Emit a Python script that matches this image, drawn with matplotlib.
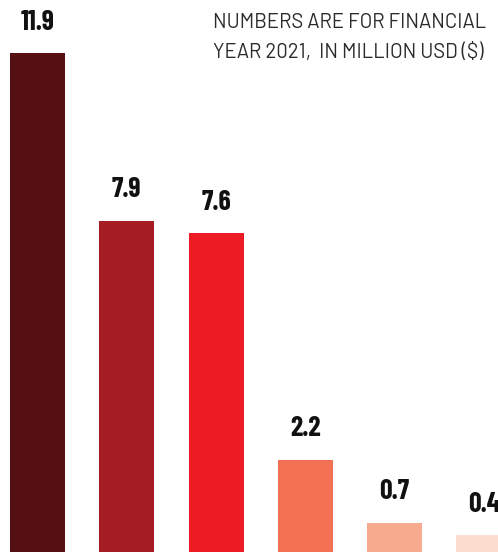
import matplotlib.pyplot as plt
import numpy as np

# Data
values = [11.9, 7.9, 7.6, 2.2, 0.7, 0.4]
labels = ["11.9", "7.9", "7.6", "2.2", "0.7", "0.4"]
colors = ["#560F12", "#A51C22", "#ED1C24", "#F37153", "#F8AA8F", "#FCDDD0"]
note_lines = ["NUMBERS ARE FOR FINANCIAL", "YEAR 2021,  IN MILLION USD ($)"]

pos = np.arange(len(values))

fig = plt.figure(figsize=(4.98, 5.52), dpi=100)
ax = fig.add_axes([0, 0, 1, 1])

bars = ax.bar(pos, values, width=0.616, color=colors)

# value labels above bars
for rect, lab in zip(bars, labels):
    ax.annotate(lab, (rect.get_x() + rect.get_width() / 2, rect.get_height()),
                xytext=(0, 17), textcoords="offset points", ha="center", va="baseline",
                fontsize=20, fontweight="bold", family="Barlow Condensed", color="#111111")

# note, top right
for i, line in enumerate(note_lines):
    ax.text(0.4277, 0.9493 - i * 0.0544, line, transform=ax.transAxes, ha="left", va="baseline",
            fontsize=14.6, color="#2b2b2b", family="Barlow")

ax.set_xlim(-0.42, 5.157)
ax.set_ylim(0, 13.17)
ax.axis("off")

fig.savefig("out.png", dpi=100)
